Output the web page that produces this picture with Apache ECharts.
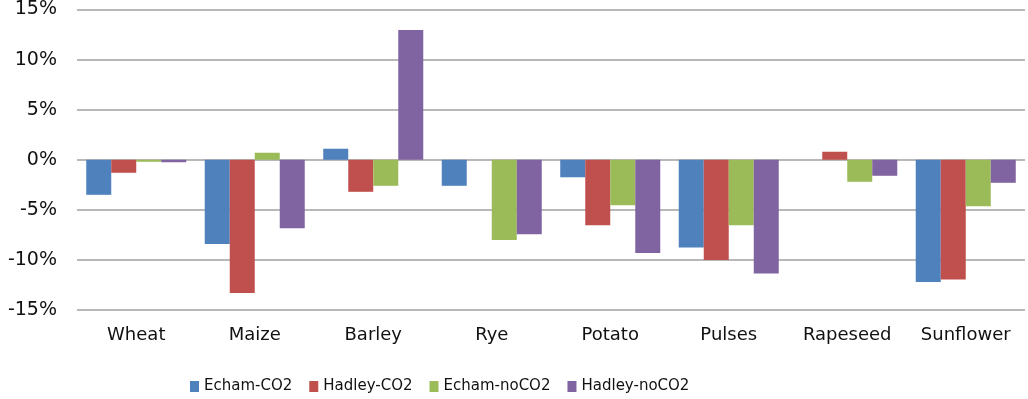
<!DOCTYPE html>
<html>
<head>
<meta charset="utf-8">
<script src="https://cdn.jsdelivr.net/npm/echarts@6/dist/echarts.min.js"></script>
<style>
  html, body { margin: 0; padding: 0; background: #fff; }
  #chart { width: 1028px; height: 399px; }
</style>
</head>
<body>
<div id="chart"></div>
<script>
// crops (categories)
const crops = ['Wheat', 'Maize', 'Barley', 'Rye', 'Potato', 'Pulses', 'Rapeseed', 'Sunflower'];

// yield change in %
const echamCO2 = [-3.5, -8.4, 1.1, -2.6, -1.75, -8.75, 0, -12.2];
const hadleyCO2 = [-1.3, -13.3, -3.2, 0, -6.55, -10.0, 0.8, -11.95];
const echamNoCO2 = [-0.2, 0.7, -2.6, -8.0, -4.55, -6.55, -2.2, -4.65];
const hadleyNoCO2 = [-0.25, -6.85, 12.95, -7.45, -9.3, -11.35, -1.6, -2.3];

// y axis ticks
const yMin = -15;
const yMax = 15;
const yStep = 5;

const chart = echarts.init(document.getElementById('chart'));

const font = 'DejaVu Sans';

function bar(name, data, color) {
  return {
    name: name,
    type: 'bar',
    data: data,
    barGap: 0,
    barCategoryGap: '15.6%',
    itemStyle: { color: color },
  };
}

const option = {
  animation: false,
  grid: {
    left: 77,
    right: 3,
    top: 9,
    bottom: 89,
  },
  legend: {
    left: 185,
    top: 374,
    itemWidth: 9,
    itemHeight: 11,
    itemGap: 17,
    icon: 'rect',
    textStyle: {
      fontFamily: font,
      fontSize: 15,
      color: '#111',
    },
  },
  xAxis: {
    type: 'category',
    data: crops,
    position: 'bottom',
    axisLine: { show: false, onZero: false },
    axisTick: { show: false },
    axisLabel: {
      fontFamily: font,
      fontSize: 18,
      color: '#111',
      margin: 16,
    },
  },
  yAxis: {
    type: 'value',
    min: yMin,
    max: yMax,
    interval: yStep,
    axisLine: { show: false },
    axisTick: { show: false },
    axisLabel: {
      formatter: '{value}%',
      fontFamily: font,
      fontSize: 19,
      color: '#111',
      margin: 20,
    },
    splitLine: {
      lineStyle: { color: '#a0a0a0', width: 1.5 },
    },
  },
  series: [
    bar('Echam-CO2', echamCO2, '#4F81BD'),
    bar('Hadley-CO2', hadleyCO2, '#C0504D'),
    bar('Echam-noCO2', echamNoCO2, '#9BBB59'),
    bar('Hadley-noCO2', hadleyNoCO2, '#8064A2'),
  ],
};

chart.setOption(option);
</script>
</body>
</html>
